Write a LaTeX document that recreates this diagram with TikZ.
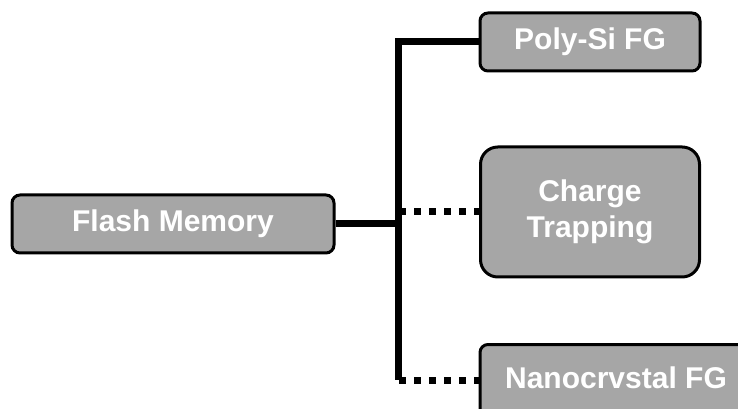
\documentclass[tikz,border=0pt]{standalone}
\usepackage{fontspec}
\setmainfont{Liberation Sans}
\usepackage{xcolor}
\usetikzlibrary{positioning,calc}
\definecolor{boxgray}{HTML}{A6A6A6}
\tikzset{
  GB/.style={draw, rectangle, rounded corners=6pt, fill=boxgray,
             align=center, text=white, line width=2.25pt,
             font=\fontsize{22.5}{27}\selectfont\bfseries, inner sep=0pt},
  SL/.style={line width=5.25pt, line join=miter},
  DL/.style={line width=5.25pt, dash pattern=on 5.25pt off 6pt, dash phase=-0.75pt}
}

\begin{document}
\begin{tikzpicture}[x=0.75pt, y=-0.75pt]
\useasboundingbox (0,0) rectangle (738,409);

% Root
\node[GB, minimum width=241.5pt, minimum height=43.5pt] (Flash) at (173,224) {Flash Memory};

% Branches
\node[GB, minimum width=165pt, minimum height=43.5pt] (Poly) at (590,42) {Poly-Si FG};
\node[GB, rounded corners=13pt, minimum width=164.25pt, minimum height=97.5pt] (Charge) at (590,212)
    {Charge\\Trapping};
\node[GB, anchor=north, minimum width=204pt, text height=33pt, text depth=30pt] (Nano) at (616,343)
    {Nanocrvstal FG};

% Vertical bus
\coordinate (bus) at (398,0);
\coordinate (low) at (0,380);

% -- Connectors --
\draw[SL] (Flash.east) -- (Flash.east -| bus);
\draw[SL] (Poly.west) -| (low -| bus);
\draw[DL] (Charge.west -| bus) -- (Charge.west);
\draw[DL] (low -| bus) -- (low -| Nano.west);

\end{tikzpicture}
\end{document}
